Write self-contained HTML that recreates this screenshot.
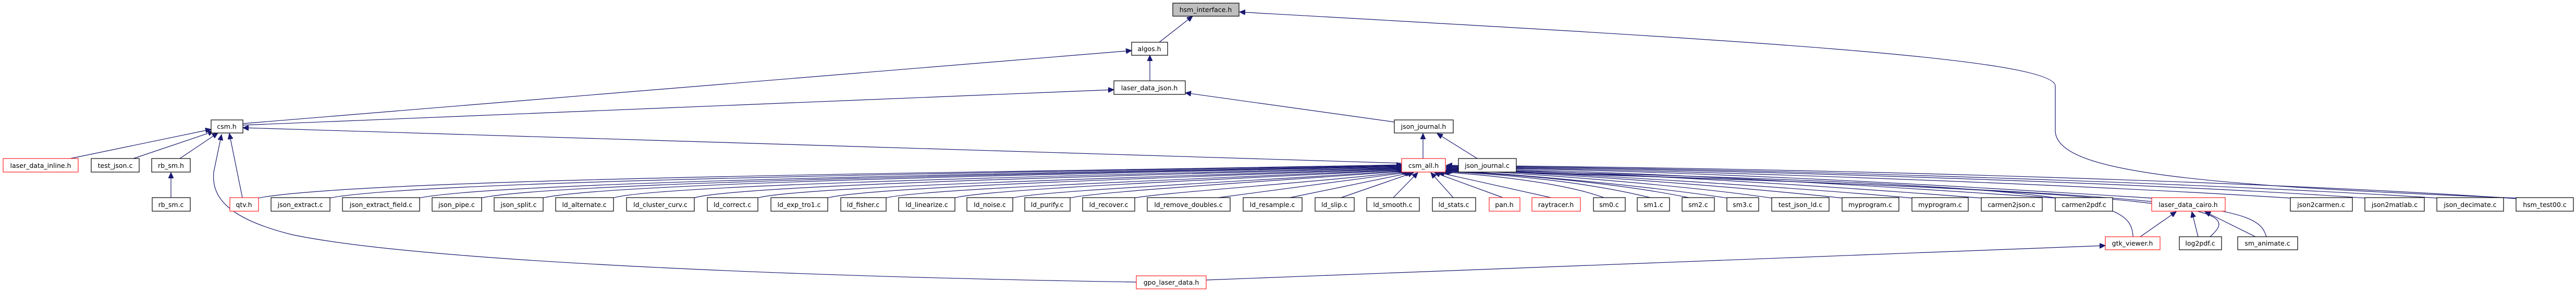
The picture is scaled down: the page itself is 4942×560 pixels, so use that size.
<!DOCTYPE html>
<html><head><meta charset="utf-8"><style>
html,body{margin:0;padding:0;background:#fff;}
svg{display:block;}
text{font-family:"DejaVu Sans","Liberation Sans",sans-serif;font-size:12.5px;fill:#000;text-anchor:middle;}
.n{fill:#fff;stroke:#000;stroke-width:1.2;}
.r{fill:#fff;stroke:#ff2020;stroke-width:1.2;}
.e{fill:none;stroke:#191970;stroke-width:1.2;}
</style></head><body>
<svg width="4942" height="560" viewBox="0 0 4942 560" xmlns="http://www.w3.org/2000/svg">
<defs><marker id="a" markerUnits="userSpaceOnUse" markerWidth="12" markerHeight="10" refX="11" refY="5" orient="auto"><path d="M0,0 L11,5 L0,10 z" fill="#191970" stroke="#191970"/></marker></defs>
<g marker-end="url(#a)">
<path class="e" d="M2224,81 L2288,31"/>
<path class="e" d="M2206,155 L2206,106"/>
<path class="e" d="M466,237 L2171,97"/>
<path class="e" d="M466,240 L2137,172"/>
<path class="e" d="M2689,313 L466,245"/>
<path class="e" d="M2675,234 L2274,178"/>
<path class="e" d="M2730,304 L2730,256"/>
<path class="e" d="M2834,304 L2757,256"/>
<path class="e" d="M135,304 L405,248"/>
<path class="e" d="M256,304 L410,252"/>
<path class="e" d="M345,304 L418,255"/>
<path class="e" d="M465,379 L440,256"/>
<path class="e" d="M328,379 L328,331"/>
<path class="e" d="M2180,541 C1500,530 800,500 560,450 C440,420 405,380 410,330 L425,258"/>
<path class="e" d="M2314,537 L4039,471"/>
<path class="e" d="M4832,380 C4200,355 3943,330 3943,250 L3943,165 C3943,110 3300,75 2378,23"/>
<path class="e" d="M4106,454 L4175,406"/>
<path class="e" d="M4217,454 L4205,406"/>
<path class="e" d="M4327,454 L4230,406"/>
<path class="e" d="M4092,454 C4090,380 4000,355 2775,325"/>
<path class="e" d="M4240,454 C4300,400 4280,370 2775,326"/>
<path class="e" d="M4348,454 C4330,400 4300,370 2775,327"/>
<path class="e" d="M494,380 C700,340 2000,330 2690,316"/>
<path class="e" d="M631,380 C800,345 2000,330 2690,317"/>
<path class="e" d="M803,380 C950,348 2000,332 2690,318"/>
<path class="e" d="M922,380 C1050,350 2000,333 2690,319"/>
<path class="e" d="M1040,380 C1150,352 2000,334 2690,320"/>
<path class="e" d="M1175,380 C1250,354 2100,336 2690,321"/>
<path class="e" d="M1330,380 C1400,356 2100,338 2690,322"/>
<path class="e" d="M1452,380 C1520,358 2200,340 2690,323"/>
<path class="e" d="M1586,380 C1650,360 2200,342 2692,324"/>
<path class="e" d="M1698,380 C1760,362 2300,344 2694,325"/>
<path class="e" d="M1830,380 C1880,364 2300,346 2696,326"/>
<path class="e" d="M1941,380 C1990,366 2400,348 2698,327"/>
<path class="e" d="M2051,380 C2100,368 2400,350 2700,328"/>
<path class="e" d="M2175,380 C2220,370 2500,352 2702,329"/>
<path class="e" d="M2330,380 L2705,330"/>
<path class="e" d="M2470,380 L2708,331"/>
<path class="e" d="M2570,380 L2712,331"/>
<path class="e" d="M2672,380 L2720,331"/>
<path class="e" d="M2789,380 L2745,331"/>
<path class="e" d="M2886,380 L2752,331"/>
<path class="e" d="M2980,380 L2760,331"/>
<path class="e" d="M3080,380 C3000,350 2850,335 2768,330"/>
<path class="e" d="M3170,380 C3050,350 2900,335 2770,329"/>
<path class="e" d="M3245,380 C3100,350 2900,334 2772,328"/>
<path class="e" d="M3315,380 C3150,355 2900,333 2774,327"/>
<path class="e" d="M3400,380 C3250,358 2950,332 2775,326"/>
<path class="e" d="M3536,380 C3350,360 3000,332 2775,325"/>
<path class="e" d="M3670,380 C3450,360 3000,331 2775,324"/>
<path class="e" d="M3803,380 C3550,360 3100,330 2775,323"/>
<path class="e" d="M3945,380 C3650,360 3200,330 2775,322"/>
<path class="e" d="M4130,380 C3800,360 3300,328 2775,321"/>
<path class="e" d="M4396,380 C4000,355 3300,327 2775,320"/>
<path class="e" d="M4539,380 C4200,355 3400,326 2775,319"/>
<path class="e" d="M4677,380 C4300,355 3500,325 2775,318"/>
<path class="e" d="M4829,381 C4400,352 3600,324 2775,317"/>
</g>
<rect x="2250" y="6" width="127" height="25" fill="#bfbfbf" stroke="#000" stroke-width="1.2"/><text x="2313" y="23">hsm_interface.h</text>
<rect class="n" x="2171" y="81" width="69" height="25"/><text x="2205" y="98">algos.h</text>
<rect class="n" x="2137" y="155" width="137" height="26"/><text x="2205" y="173">laser_data_json.h</text>
<rect class="n" x="405" y="230" width="61" height="25"/><text x="435" y="247">csm.h</text>
<rect class="n" x="2675" y="230" width="113" height="25"/><text x="2731" y="247">json_journal.h</text>
<rect class="r" x="6" y="304" width="144" height="26"/><text x="78" y="322">laser_data_inline.h</text>
<rect class="n" x="175" y="304" width="92" height="26"/><text x="221" y="322">test_json.c</text>
<rect class="n" x="291" y="304" width="74" height="26"/><text x="328" y="322">rb_sm.h</text>
<rect class="r" x="2689" y="304" width="84" height="26"/><text x="2731" y="322">csm_all.h</text>
<rect class="n" x="2798" y="304" width="111" height="26"/><text x="2853" y="322">json_journal.c</text>
<g>
<rect class="n" x="292" y="379" width="73" height="26"/><text x="328" y="397">rb_sm.c</text>
<rect class="r" x="441" y="379" width="55" height="26"/><text x="468" y="397">qtv.h</text>
<rect class="n" x="520" y="379" width="113" height="26"/><text x="576" y="397">json_extract.c</text>
<rect class="n" x="657" y="379" width="148" height="26"/><text x="731" y="397">json_extract_field.c</text>
<rect class="n" x="829" y="379" width="95" height="26"/><text x="876" y="397">json_pipe.c</text>
<rect class="n" x="948" y="379" width="94" height="26"/><text x="995" y="397">json_split.c</text>
<rect class="n" x="1066" y="379" width="111" height="26"/><text x="1121" y="397">ld_alternate.c</text>
<rect class="n" x="1202" y="379" width="130" height="26"/><text x="1267" y="397">ld_cluster_curv.c</text>
<rect class="n" x="1357" y="379" width="97" height="26"/><text x="1405" y="397">ld_correct.c</text>
<rect class="n" x="1479" y="379" width="109" height="26"/><text x="1533" y="397">ld_exp_tro1.c</text>
<rect class="n" x="1613" y="379" width="87" height="26"/><text x="1656" y="397">ld_fisher.c</text>
<rect class="n" x="1724" y="379" width="108" height="26"/><text x="1778" y="397">ld_linearize.c</text>
<rect class="n" x="1855" y="379" width="88" height="26"/><text x="1899" y="397">ld_noise.c</text>
<rect class="n" x="1966" y="379" width="87" height="26"/><text x="2009" y="397">ld_purify.c</text>
<rect class="n" x="2077" y="379" width="100" height="26"/><text x="2127" y="397">ld_recover.c</text>
<rect class="n" x="2201" y="379" width="159" height="26"/><text x="2280" y="397">ld_remove_doubles.c</text>
<rect class="n" x="2385" y="379" width="113" height="26"/><text x="2441" y="397">ld_resample.c</text>
<rect class="n" x="2523" y="379" width="75" height="26"/><text x="2560" y="397">ld_slip.c</text>
<rect class="n" x="2622" y="379" width="101" height="26"/><text x="2672" y="397">ld_smooth.c</text>
<rect class="n" x="2748" y="379" width="83" height="26"/><text x="2789" y="397">ld_stats.c</text>
<rect class="r" x="2857" y="379" width="59" height="26"/><text x="2886" y="397">pan.h</text>
<rect class="r" x="2939" y="379" width="93" height="26"/><text x="2985" y="397">raytracer.h</text>
<rect class="n" x="3057" y="379" width="61" height="26"/><text x="3087" y="397">sm0.c</text>
<rect class="n" x="3141" y="379" width="62" height="26"/><text x="3172" y="397">sm1.c</text>
<rect class="n" x="3227" y="379" width="62" height="26"/><text x="3258" y="397">sm2.c</text>
<rect class="n" x="3313" y="379" width="61" height="26"/><text x="3343" y="397">sm3.c</text>
<rect class="n" x="3399" y="379" width="110" height="26"/><text x="3454" y="397">test_json_ld.c</text>
<rect class="n" x="3534" y="379" width="109" height="26"/><text x="3588" y="397">myprogram.c</text>
<rect class="n" x="3668" y="379" width="108" height="26"/><text x="3722" y="397">myprogram.c</text>
<rect class="n" x="3801" y="379" width="117" height="26"/><text x="3859" y="397">carmen2json.c</text>
<rect class="n" x="3943" y="379" width="110" height="26"/><text x="3998" y="397">carmen2pdf.c</text>
<rect class="r" x="4128" y="379" width="141" height="26"/><text x="4198" y="397">laser_data_cairo.h</text>
<rect class="n" x="4394" y="379" width="119" height="26"/><text x="4453" y="397">json2carmen.c</text>
<rect class="n" x="4537" y="379" width="114" height="26"/><text x="4594" y="397">json2matlab.c</text>
<rect class="n" x="4675" y="379" width="128" height="26"/><text x="4739" y="397">json_decimate.c</text>
<rect class="n" x="4827" y="379" width="110" height="26"/><text x="4882" y="397">hsm_test00.c</text>
</g>
<rect class="r" x="4039" y="454" width="105" height="25"/><text x="4091" y="471">gtk_viewer.h</text>
<rect class="n" x="4181" y="454" width="81" height="25"/><text x="4221" y="471">log2pdf.c</text>
<rect class="n" x="4293" y="454" width="115" height="25"/><text x="4350" y="471">sm_animate.c</text>
<rect class="r" x="2180" y="529" width="134" height="25"/><text x="2247" y="546">gpo_laser_data.h</text>
</svg>
</body></html>
